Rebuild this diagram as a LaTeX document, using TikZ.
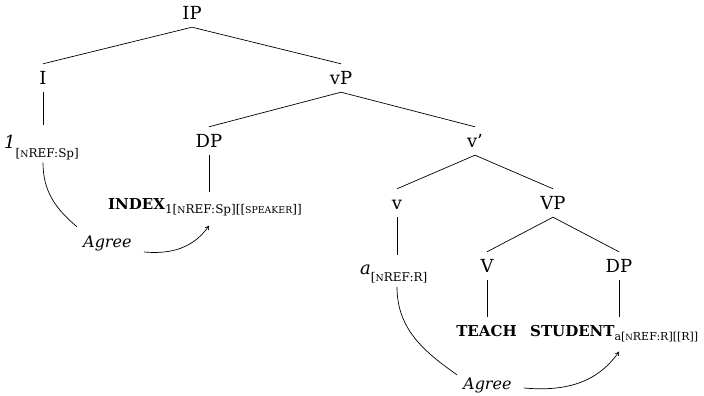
\documentclass[tikz,border=0pt]{standalone}
\usepackage{fontspec}
\setmainfont{DejaVu Serif}
\usetikzlibrary{arrows.meta,calc}
% faked small capitals
\newcommand\fsc[1]{\scalebox{0.78}{#1}}
% lowered upright indices
\newcommand\lowsub[2][4pt]{\raisebox{-#1}{\normalfont\fontsize{12}{14}\selectfont #2}}
\newcommand\lowsubsmall[1]{\raisebox{-4pt}{\normalfont\fontsize{11}{13}\selectfont #1}}
\begin{document}
\begin{tikzpicture}[x=1pt,y=1pt,
  cat/.style={anchor=base, font=\fontsize{18}{21}\selectfont, inner xsep=1pt, inner ysep=7pt, text height=14pt, text depth=0pt},
  lex/.style={anchor=base west, inner sep=0pt, text height=13pt},
  gloss/.style={lex, font=\bfseries\fontsize{15}{18}\selectfont},
  agr/.style={anchor=base west, inner sep=0pt, text height=12pt, font=\itshape\fontsize{16}{19}\selectfont},
  branch/.style={line width=0.7pt},
  unary/.style={branch, shorten >=7pt},
  agreearc/.style={line width=0.7pt},
  agreearrow/.style={agreearc, -{To[length=4pt,width=5pt]}}
]
\useasboundingbox (0,0) rectangle (704,396);

% categories
\node[cat] (IP) at (192,376) {IP};
\node[cat] (I) at (43,311) {I};
\node[cat] (vP) at (341,311) {vP};
\node[cat] (DPa) at (209,248) {DP};
\node[cat] (vbar) at (475,248) {v’};
\node[cat] (v) at (397,186) {v};
\node[cat] (VP) at (553,186) {VP};
\node[cat] (V) at (487,123) {V};
\node[cat] (DPb) at (619,123) {DP};

% terminals
\node[lex, font=\itshape\fontsize{18}{21}\selectfont] (one) at (4,247) {1\lowsub[9pt]{[\fsc{N}REF:Sp]}};
\node[gloss] (index) at (108,186) {INDEX\lowsub{1[\fsc{N}REF:Sp][[\fsc{SPEAKER}]]}};
\node[lex, font=\itshape\fontsize{18}{21}\selectfont] (a) at (360,121) {a\lowsub[7pt]{[\fsc{N}REF:R]}};
\node[gloss, anchor=base] (teach) at (486.5,59) {TEACH};
\node[gloss] (student) at (530,59) {STUDENT\lowsubsmall{a[\fsc{N}REF:R][[R]]}};

% agreement labels
\node[agr] (agreeL) at (83,148) {Agree};
\node[agr] (agreeR) at (463,6) {Agree};

% branches
\draw[branch] (IP.south) -- (I.north);
\draw[branch] (IP.south) -- (vP.north);
\draw[branch] (vP.south) -- (DPa.north);
\draw[branch] (vP.south) -- (vbar.north);
\draw[branch] (vbar.south) -- (v.north);
\draw[branch] (vbar.south) -- (VP.north);
\draw[branch] (VP.south) -- (V.north);
\draw[branch] (VP.south) -- (DPb.north);
\draw[branch, shorten >=11pt] (I.south) -- (I.south |- one.north);
\draw[branch, shorten >=5pt] (DPa.south) -- (DPa.south |- index.north);
\draw[unary] (v.south) -- (v.south |- a.north);
\draw[unary] (V.south) -- (V.south |- teach.north);
\draw[unary] (DPb.south) -- (DPb.south |- student.north);

% Agree relations
\draw[agreearc] ($(I |- one.south)+(0,-2)$) to[out=-90, in=140] ($(agreeL.north west)+(-6,9)$);
\draw[agreearrow] ($(agreeL.base east)+(12,-4)$) to[out=-5, in=235] ($(DPa |- index.south)+(0,-9)$);
\draw[agreearc] ($(v |- a.south)+(0,-3)$) to[out=-90, in=145] ($(agreeR.north west)+(-6,3)$);
\draw[agreearrow] ($(agreeR.base east)+(12,2)$) to[out=-5, in=235] ($(DPb |- student.south)+(0,-9)$);
\end{tikzpicture}
\end{document}
